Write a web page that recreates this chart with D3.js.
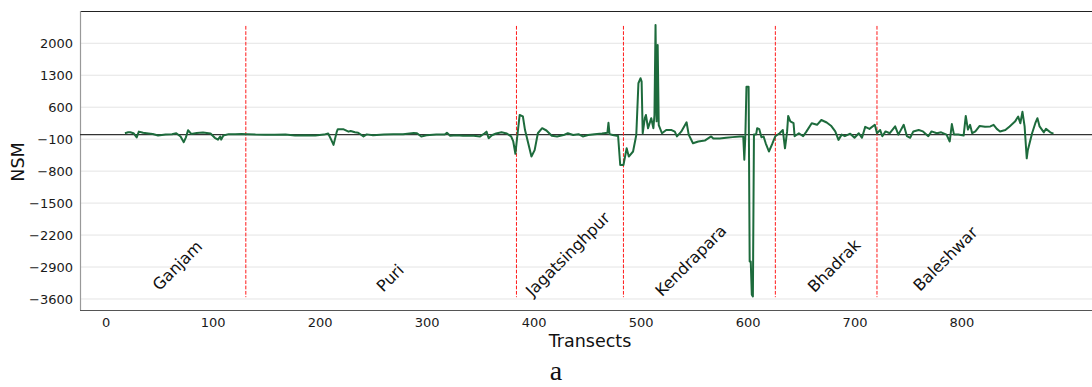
<!DOCTYPE html>
<html>
<head>
<meta charset="utf-8">
<script src="https://cdn.jsdelivr.net/npm/d3@7"></script>
<style>
  html, body { margin: 0; padding: 0; background: #fff; }
  svg { display: block; font-family: "DejaVu Sans", sans-serif; }
</style>
</head>
<body>
<svg id="chart" width="1092" height="387"></svg>
<script>
// Net shoreline movement (NSM) per transect along the Odisha coast
const transects = [
  18, 21, 23, 26, 29, 31, 35, 40, 44, 49, 56, 62, 66, 70, 73, 75, 77, 80, 85, 91,
  98, 102, 105, 107, 108, 110, 115, 121, 127, 132, 140, 149, 158, 168, 177, 186, 196, 204, 208, 211,
  213, 216, 217, 222, 227, 229, 233, 236, 241, 244, 250, 260, 269, 278, 288, 291, 295, 300, 309, 317,
  319, 322, 328, 334, 344, 350, 354, 356, 358, 361, 365, 370, 375, 379, 381, 383, 384, 387, 390, 392,
  395, 398, 401, 404, 408, 412, 417, 422, 428, 432, 437, 442, 446, 451, 457, 464, 469, 470, 471, 474,
  479, 481, 484, 487, 489, 493, 496, 498, 500, 501, 502, 504, 505, 507, 510, 512, 513, 514, 515, 516,
  517, 520, 524, 529, 532, 534, 538, 543, 545, 549, 554, 560, 566, 568, 574, 580, 586, 593, 596, 597,
  598, 599, 601, 602, 603, 604, 605, 606, 608, 609, 611, 613, 615, 617, 620, 623, 626, 630, 633, 635,
  637, 638, 640, 643, 644, 648, 652, 655, 660, 665, 669, 674, 678, 682, 685, 688, 691, 696, 700, 704,
  707, 710, 714, 719, 721, 724, 726, 729, 733, 738, 741, 746, 749, 752, 755, 760, 764, 769, 772, 777,
  781, 786, 789, 791, 793, 797, 802, 804, 806, 808, 810, 813, 817, 822, 827, 830, 833, 836, 841, 845,
  850, 853, 855, 857, 859, 861, 862, 866, 869, 871, 873, 877, 879, 883, 886
];
const nsm = [
  30, 50, 50, 30, -60, 65, 40, 25, 15, -20, 0, 10, 30, -40, -165, -60, 95, 15, 35, 45,
  25, -70, -110, -40, -110, -20, 10, 10, 15, 10, 0, -5, -5, 0, -20, -15, -20, 0, 25, -120,
  -225, 60, 120, 120, 65, 80, 50, 40, -40, 5, -15, 0, 10, 10, 35, 30, -40, -15, 0, 0,
  40, -25, -15, -25, -25, -40, 25, 65, -80, -15, 25, 50, 25, -40, -150, -420, -200, 430, 400, 100,
  -190, -480, -340, 30, 140, 90, -25, -40, -10, 30, -10, 10, -40, -10, 10, 25, 40, 260, 10, -10,
  -30, -665, -665, -300, -480, -370, -10, 1125, 1235, 1160, 30, 360, 430, 140, 360, 140, 430, 2400, 290, 1960,
  210, 30, 100, 100, 65, -40, 65, 270, 0, -190, -150, -130, -40, -85, -85, -70, -55, -40, -40, -550,
  0, 1050, 1050, -2780, -2780, -3505, -3545, 0, 0, 140, 120, -60, -40, -190, -370, -210, -35, 30, 100, -300,
  70, 410, 290, 250, -35, 30, -35, 65, 250, 215, 320, 265, 195, 70, -115, 0, -35, 20, -70, 30,
  -70, 170, 125, 215, 30, 100, -35, 70, 30, 180, 0, 215, -35, -70, 70, 100, 70, -35, 70, 30,
  50, 0, -150, 230, 0, 0, -20, 410, 110, 215, 30, 70, 190, 170, 180, 215, 125, 70, 100, 180,
  285, 395, 250, 500, 180, -520, -340, 30, 250, 360, 180, 50, 125, 50, 20
];

// District boundaries (transect positions) and district names
const boundaries = [131, 384, 484, 626, 721];
const districts = ["Ganjam", "Puri", "Jagatsinghpur", "Kendrapara", "Bhadrak", "Baleshwar"];
const districtLabelX = [67, 266, 432, 547, 681, 785];
const districtLabelY = [-2870, -3140, -2620, -2760, -2870, -2720];

const xTicks = [0, 100, 200, 300, 400, 500, 600, 700, 800];
const yTicks = [2000, 1300, 600, -100, -800, -1500, -2200, -2900, -3600];

const svg = d3.select("#chart");
const plotLeft = 80, plotRight = 1092, plotTop = 11, plotBottom = 310;

const x = d3.scaleLinear().domain([-24, 922]).range([plotLeft, plotRight]);
const y = d3.scaleLinear().domain([-3841, 2707]).range([plotBottom, plotTop]);

// horizontal grid
svg.append("g").selectAll("line").data(yTicks).join("line")
  .attr("x1", plotLeft).attr("x2", plotRight)
  .attr("y1", d => y(d)).attr("y2", d => y(d))
  .attr("stroke", "#e4e4e4").attr("stroke-width", 1);

// axes (labels only, no tick marks)
const fmt = d => d3.format("d")(d).replace("-", "\u2212");
const xAxis = svg.append("g").attr("transform", `translate(0,${plotBottom})`)
  .call(d3.axisBottom(x).tickValues(xTicks).tickSize(0).tickPadding(8).tickFormat(fmt));
const yAxis = svg.append("g").attr("transform", `translate(${plotLeft},0)`)
  .call(d3.axisLeft(y).tickValues(yTicks).tickSize(0).tickPadding(7).tickFormat(fmt));
[xAxis, yAxis].forEach(g => {
  g.select(".domain").remove();
  g.selectAll("text").attr("font-size", 13).attr("fill", "#1a1a1a")
    .attr("font-family", "DejaVu Sans, sans-serif");
});

// spines
svg.append("line").attr("x1", plotLeft).attr("x2", plotRight).attr("y1", plotTop + 0.5).attr("y2", plotTop + 0.5)
  .attr("stroke", "#222").attr("stroke-width", 1);
svg.append("line").attr("x1", plotLeft + 0.5).attr("x2", plotLeft + 0.5).attr("y1", plotTop).attr("y2", plotBottom)
  .attr("stroke", "#999").attr("stroke-width", 1.2);
svg.append("line").attr("x1", plotLeft).attr("x2", plotRight).attr("y1", plotBottom + 0.5).attr("y2", plotBottom + 0.5)
  .attr("stroke", "#555").attr("stroke-width", 1.2);

// zero reference line
svg.append("line").attr("x1", plotLeft).attr("x2", plotRight).attr("y1", y(0)).attr("y2", y(0))
  .attr("stroke", "#333").attr("stroke-width", 1.2);

// district boundaries
svg.append("g").selectAll("line").data(boundaries).join("line")
  .attr("x1", d => x(d)).attr("x2", d => x(d))
  .attr("y1", y(2380)).attr("y2", y(-3560))
  .attr("stroke", "#ff1a1a")
  .attr("stroke-width", 1).attr("stroke-dasharray", "3.7,1.6");

// NSM line
const pts = transects.map((t, i) => [t, nsm[i]]);
svg.append("path").datum(pts)
  .attr("fill", "none").attr("stroke", "#1d6b3c").attr("stroke-width", 2)
  .attr("stroke-linejoin", "round")
  .attr("d", d3.line().x(d => x(d[0])).y(d => y(d[1])));

// district names
svg.append("g").selectAll("text").data(districts).join("text")
  .attr("transform", (d, i) => `translate(${x(districtLabelX[i])},${y(districtLabelY[i])}) rotate(-45)`)
  .attr("text-anchor", "middle").attr("dominant-baseline", "central")
  .attr("font-size", 16).attr("fill", "#111")
  .text(d => d);

// axis titles
svg.append("text").attr("x", 590).attr("y", 347).attr("text-anchor", "middle")
  .attr("font-size", 17.5).attr("fill", "#111").text("Transects");
svg.append("text").attr("transform", "translate(24,162) rotate(-90)").attr("text-anchor", "middle")
  .attr("font-size", 17.5).attr("fill", "#111").text("NSM");

// panel letter
svg.append("text").attr("x", 556).attr("y", 380).attr("text-anchor", "middle")
  .attr("font-family", "Liberation Serif, Times New Roman, serif")
  .attr("font-size", 28).attr("fill", "#111").text("a");
</script>
</body>
</html>
